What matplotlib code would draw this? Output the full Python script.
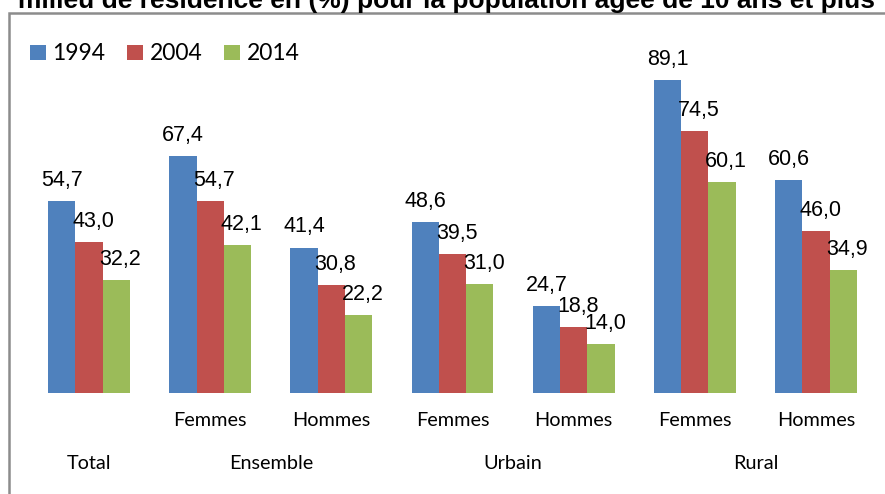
import numpy as np
import matplotlib
matplotlib.use("Agg")
import matplotlib.pyplot as plt
from matplotlib.patches import Rectangle

# data
sub_labels = ['', 'Femmes', 'Hommes', 'Femmes', 'Hommes', 'Femmes', 'Hommes']
group_labels = ['Total', 'Ensemble', 'Urbain', 'Rural']
group_pos = [0, 1.5, 3.5, 5.5]
years = ['1994', '2004', '2014']
v1994 = [54.7, 67.4, 41.4, 48.6, 24.7, 89.1, 60.6]
v2004 = [43.0, 54.7, 30.8, 39.5, 18.8, 74.5, 46.0]
v2014 = [32.2, 42.1, 22.2, 31.0, 14.0, 60.1, 34.9]
title = "milieu de résidence en (%) pour la population âgée de 10 ans et plus"

colors = ['#4F81BD', '#C0504D', '#9BBB59']

W, H = 885, 494
fig = plt.figure(figsize=(W / 100, H / 100), dpi=100)
ax = fig.add_axes([28.5 / W, 1 - 393 / H, 848 / W, 351.3 / H])

x = np.arange(len(sub_labels))
width = 0.225
series = [v1994, v2004, v2014]
dx_pts = [0, 3, 3]
for i, (vals, yr, c) in enumerate(zip(series, years, colors)):
    xs = x + (i - 1) * width
    ax.bar(xs, vals, width, color=c, label=yr, edgecolor='none')
    for xi, v in zip(xs, vals):
        ax.annotate(f"{v:.1f}".replace('.', ','), (xi, v),
                    xytext=(dx_pts[i], 11), textcoords='offset points',
                    ha='center', va='baseline', fontsize=15.5,
                    family='Liberation Sans', color='black')

ax.set_xlim(-0.5, 6.5)
ax.set_ylim(0, 100)
ax.axis('off')

for xi, lab in zip(x, sub_labels):
    ax.annotate(lab, (xi, 0), xycoords=('data', 'axes fraction'),
                xytext=(0, -20), textcoords='offset points',
                ha='center', va='center', fontsize=14.3, family='Lato')
for gp, lab in zip(group_pos, group_labels):
    ax.annotate(lab, (gp, 0), xycoords=('data', 'axes fraction'),
                xytext=(0, -50.5), textcoords='offset points',
                ha='center', va='center', fontsize=14.3, family='Lato')

leg = fig.legend(loc='center left', bbox_to_anchor=(30 / W, 1 - 54 / H),
                 ncol=3, frameon=False, prop={'family': 'Lato', 'size': 16.5},
                 handlelength=0.68, handleheight=0.68, handletextpad=0.3,
                 columnspacing=0.95, borderpad=0, borderaxespad=0)

# outer chart border, cut off at right and bottom
fig.patches.append(Rectangle((8.7 / W, -0.2), 1.2, 1 - 13.5 / H + 0.2,
                             transform=fig.transFigure, fill=False,
                             edgecolor='#8C8C8C', linewidth=1.8))

fig.text(446 / W, 1 - 8 / H, title, ha='center', va='baseline',
         fontsize=19, fontweight='bold', family='Liberation Sans')

fig.savefig('out.png', dpi=100)
